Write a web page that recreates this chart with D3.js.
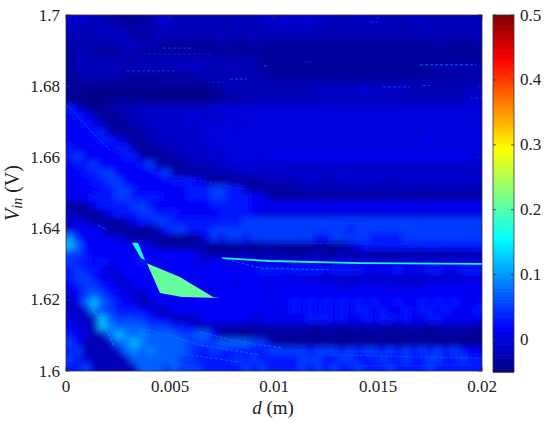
<!DOCTYPE html>
<html><head><meta charset="utf-8">
<script src="https://cdn.jsdelivr.net/npm/d3@7"></script>
<style>html,body{margin:0;padding:0;background:#fff}svg{display:block}text{font-family:"Liberation Serif","Times New Roman",Tinos,serif;fill:#222}</style>
</head><body><div id="c"></div>
<script>
// Heat values: one letter per cell, V from 1.7 (top) to 1.6 (bottom), d from 0 to 0.02
const heatLevels = [-0.045,-0.035,-0.02,-0.01,0,0.015,0.03,0.05,0.07,0.09,0.12,0.15,0.2];
const levelKeys = "0123456789abc";
const heatRows = [
"3332 2111 1113 3222 2222 2222 3333 3333 3222 3333 2223 2222 2222",
"3222 3321 1222 3322 2222 2322 2333 3332 2222 2222 2222 2322 2222",
"2222 2233 1112 2222 2222 2222 2222 2222 2222 2222 2222 2222 2222",
"1222 2222 3222 1111 1112 1112 1111 1111 1111 1111 1111 1121 1112",
"1221 1112 2111 1111 1111 1111 1111 1111 1111 1111 1111 1111 1111",
"1222 2222 1222 2222 2222 2222 1111 1111 1111 1111 1111 1111 1111",
"1222 2222 2222 2233 3222 2222 1111 1111 1111 1111 1111 1122 2222",
"1122 2221 1111 1111 2222 2222 2111 1111 1111 1111 1111 1111 1121",
"1111 1111 1111 1111 1112 2222 2222 2222 2222 2222 2222 2222 2222",
"1100 0000 0000 0000 0011 2222 2222 2223 3333 3433 3332 2222 2233",
"0000 0111 1100 0000 0011 1122 2222 2222 2222 2222 2222 2222 2233",
"6411 1122 2333 3333 3344 4444 4444 4444 4444 4444 4444 4444 4444",
"5652 1112 2333 3334 4333 4444 4444 4444 4444 4444 4444 4444 4444",
"5565 2111 2233 3333 3444 4344 4444 4444 4444 4444 4444 4444 4444",
"5556 6211 1223 3333 3444 4444 4444 4444 4444 4444 4444 4444 4444",
"5555 6652 1122 3333 3344 4444 4444 4444 4444 4444 4444 4544 4444",
"6555 5566 2112 2233 3344 4444 4444 4444 4444 4444 4444 4444 4444",
"6755 5556 6211 1223 3333 4444 4455 5555 5555 5555 5555 5555 5544",
"5667 5555 5672 1112 2233 3444 3333 3333 3333 3333 3333 3333 3333",
"5566 7755 5556 7211 1122 2233 3333 3333 3333 3333 3333 3333 3333",
"5556 6775 5555 5666 5211 1111 2222 2333 2233 3333 2333 3333 3333",
"4555 6677 6555 5556 6677 6621 1111 1222 2222 2222 2222 2222 2222",
"5556 6677 6666 5556 6677 6665 5211 1111 1111 1111 1111 1111 1111",
"1125 6666 7765 5555 5566 6665 5555 5555 5555 5555 5555 5555 5555",
"3111 2566 6776 6655 5556 6665 4444 4444 3444 4344 4444 3444 4444",
"4431 1112 5667 7666 6666 6677 7777 7777 7777 7777 7777 7777 7777",
"4555 4111 1112 6776 6677 7777 7777 7777 7776 7777 7777 7777 7777",
"9655 5442 1111 1111 1576 7767 7777 7776 6777 7766 6677 7777 7777",
"a855 5555 4542 1111 1111 1111 1111 1111 1112 5666 6666 6666 6666",
"7765 5555 5555 5555 4211 1121 1211 1112 1121 1211 1121 1211 2122",
"7665 6555 5655 5555 4455 5554 4444 4444 4444 3444 3444 4444 4444",
"6766 5355 5555 5555 5555 5555 6665 6666 5666 6555 5655 5665 5666",
"6776 5525 5555 5555 5555 5555 5455 4444 3333 3333 3333 3333 3344",
"5677 6552 5555 5555 5555 5455 5555 5555 4544 4545 4444 4555 5555",
"4578 7655 2255 5555 5555 5555 5455 5555 5555 5555 5555 5555 5545",
"348a 8765 5225 5555 5555 5555 5555 6565 6565 6565 5655 6565 6555",
"3339 7766 6552 2555 5555 5555 5545 6565 6565 6656 5565 6656 5556",
"4332 a877 7765 5222 4555 5554 4555 5566 6565 5656 6565 5665 5555",
"5432 a988 8877 7665 2222 2212 2222 2221 2212 2222 1222 2122 2221",
"6532 28a9 8988 8877 8851 1101 1011 1101 1110 1011 1101 1011 1101",
"7522 2389 a988 8887 7778 8887 7411 1111 1101 1111 1011 1111 1110",
"6722 2238 9898 8887 6676 6666 6777 7767 7767 6776 7676 7676 7655",
"7632 2223 8888 8877 6666 6767 6666 6777 6677 6667 6676 6776 6766",
"6673 2222 3888 7877 7666 6676 7666 6767 6766 7666 7666 6766 6666"
];
// Bright filled patches (d, V, value)
const patchD = [[0.00389,0.00548,0.00707,0.0074,0.00558,0.00452],[0.00317,0.00346,0.0038,0.00361]];
const patchV = [[1.6303,1.6264,1.6208,1.6205,1.6208,1.6219],[1.636,1.636,1.6312,1.6317]];
const patchValue = [0.21,0.165];
// Thin bright streaks (d, V, value)
const streakD = [
[0.0075,0.00981,0.01413,0.02],[0.0075,0.00933,0.01269],[0.00981,0.01413,0.02],[0.00981,0.02],
[0.01702,0.0197],[0.00467,0.00611],[0.0037,0.00692],[0.00293,0.00534],[0.00678,0.00774],[0.00788,0.00870],
[0.01462,0.01510],[0.01524,0.01654],[0.01716,0.01750],[0.01942,0.02],[0.00952,0.00971],[0.01144,0.01180],
[0.00005,0.00115,0.00212],[0.00404,0.00885],[0.00644,0.00837,0.01038],[0.00101,0.00197,0.00226],
[0.0025,0.00404,0.00644,0.00933],[0.00269,0.00404,0.00596,0.00837],[0.00284,0.00404,0.00596],
[0.01269,0.02],[0.00981,0.01606],[0.01365,0.0197],[0.00154,0.00197]
];
const streakV = [
[1.6317,1.6309,1.6303,1.6301],[1.6317,1.6289,1.6284],[1.6424,1.6413,1.6404],[1.636,1.6354],
[1.686,1.686],[1.6907,1.6907],[1.689,1.689],[1.6843,1.6843],[1.6812,1.6812],[1.682,1.682],
[1.698,1.698],[1.6798,1.6798],[1.6802,1.6802],[1.6767,1.6767],[1.6857,1.6857],[1.6868,1.6868],
[1.6747,1.6677,1.6621],[1.6559,1.6508],[1.611,1.6081,1.6065],[1.62,1.6115,1.6073],
[1.6121,1.6115,1.6073,1.6045],[1.6087,1.6073,1.6045,1.6025],[1.6059,1.6036,1.6014],
[1.6045,1.6036],[1.6059,1.6053],[1.6014,1.6017],[1.641,1.6396]
];
const streakValue = [0.175,0.09,0.06,0.05,0.10,0.07,0.04,0.07,0.04,0.08,0.05,0.07,0.08,0.06,0.09,0.05,0.07,0.05,0.09,0.12,0.09,0.08,0.08,0.07,0.06,0.06,0.09];
const xTicks = [0,0.005,0.01,0.015,0.02];
const yTicks = [1.6,1.62,1.64,1.66,1.68,1.7];
const cTicks = [0,0.1,0.2,0.3,0.4,0.5];

const W=550,H=423,L=66,R=482,T=15,B=371;
const x=d3.scaleLinear().domain([0,0.02]).range([L,R]);
const y=d3.scaleLinear().domain([1.6,1.7]).range([B,T]);
// jet colormap spread over the colour range
const cMin=-0.05,cMax=0.5,jet=["#000080","#0000ff","#00ffff","#80ff80","#ffff00","#ff0000","#800000"],stops=[0,.125,.375,.5,.625,.875,1];
const color=d3.scaleLinear().domain(stops.map(s=>cMin+s*(cMax-cMin))).range(jet).clamp(true);

const cells=heatRows.map(r=>r.replace(/ /g,""));
const nCols=cells[0].length,nRows=cells.length;
const cols=d3.scaleBand().domain(d3.range(nCols)).range([L,R]);
const rows=d3.scaleBand().domain(d3.range(nRows)).range([T,B]);

const svg=d3.select("#c").append("svg").attr("width",W).attr("height",H);
const defs=svg.append("defs");
defs.append("clipPath").attr("id","pc").append("rect").attr("x",L).attr("y",T).attr("width",R-L).attr("height",B-T);
defs.append("filter").attr("id","soft").attr("x","-5%").attr("y","-5%").attr("width","110%").attr("height","110%")
  .append("feGaussianBlur").attr("stdDeviation",3.2);

const plot=svg.append("g").attr("clip-path","url(#pc)");
plot.append("rect").attr("x",L).attr("y",T).attr("width",R-L).attr("height",B-T).attr("fill",color(-0.03));
const grid=plot.append("g").attr("filter","url(#soft)");
cells.forEach((row,r)=>{
  grid.selectAll(null).data(row.split("")).enter().append("rect")
    .attr("x",(d,c)=>cols(c)-(c===0?14:0)).attr("y",rows(r)-(r===0?14:0))
    .attr("width",(d,c)=>cols.bandwidth()+(c===0||c===nCols-1?14:0)+.5)
    .attr("height",rows.bandwidth()+(r===0||r===nRows-1?14:0)+.5)
    .attr("fill",d=>color(heatLevels[levelKeys.indexOf(d)]));
});
const line=d3.line().x(p=>x(p[0])).y(p=>y(p[1]));
plot.append("g").selectAll("path").data(streakD.map((ds,i)=>({pts:ds.map((d,j)=>[d,streakV[i][j]]),v:streakValue[i]})))
  .enter().append("path").attr("d",o=>line(o.pts)).attr("fill","none").attr("stroke",o=>color(o.v))
  .attr("stroke-width",o=>o.v>0.15?1.8:1).attr("stroke-opacity",o=>o.v>0.15?.95:.7)
  .attr("stroke-dasharray",o=>o.v>0.15?null:"3 2");
plot.append("g").selectAll("path").data(patchD.map((ds,i)=>({pts:ds.map((d,j)=>[d,patchV[i][j]]),v:patchValue[i]})))
  .enter().append("path").attr("d",o=>d3.line().x(p=>x(p[0])).y(p=>y(p[1])).curve(d3.curveLinearClosed)(o.pts)).attr("fill",o=>color(o.v));

// Frame and axes
const ink="#333";
const frame=svg.append("g");
frame.append("rect").attr("x",L).attr("y",T).attr("width",R-L).attr("height",B-T).attr("fill","none").attr("stroke",ink).attr("stroke-width",.8);
const fmt=d=>String(+d.toFixed(3));
const tick=(g,x1,y1,x2,y2)=>g.append("line").attr("x1",x1).attr("y1",y1).attr("x2",x2).attr("y2",y2).attr("stroke",ink).attr("stroke-width",.8);
xTicks.forEach(t=>{tick(frame,x(t),B,x(t),B-4);tick(frame,x(t),T,x(t),T+4);
  frame.append("text").attr("x",x(t)).attr("y",392).attr("text-anchor","middle").attr("font-size",17).text(fmt(t));});
yTicks.forEach(t=>{tick(frame,L,y(t),L+4,y(t));tick(frame,R,y(t),R-4,y(t));
  frame.append("text").attr("x",L-6).attr("y",y(t)+5.5).attr("text-anchor","end").attr("font-size",17).text(fmt(t));});
const xl=frame.append("text").attr("x",273).attr("y",414).attr("text-anchor","middle").attr("font-size",19);
xl.append("tspan").attr("font-style","italic").text("d");xl.append("tspan").text(" (m)");
const yl=frame.append("text").attr("transform","translate(19,193) rotate(-90)").attr("text-anchor","middle").attr("font-size",20);
yl.append("tspan").attr("font-style","italic").text("V");
yl.append("tspan").attr("font-style","italic").attr("font-size",14).attr("dy",3).text("in");
yl.append("tspan").attr("dy",-3).text(" (V)");

// Colour bar
const cx0=493,cx1=514;
const cy=d3.scaleLinear().domain([cMin,cMax]).range([372,T]);
const bar=svg.append("g");
const steps=d3.range(128).map(i=>cMin+(i/128)*(cMax-cMin));
bar.selectAll("rect").data(steps).enter().append("rect").attr("x",cx0).attr("width",cx1-cx0)
  .attr("y",v=>cy(v+(cMax-cMin)/128)).attr("height",(372-T)/128+.6).attr("fill",v=>color(v+(cMax-cMin)/256));
bar.append("rect").attr("x",cx0).attr("y",T).attr("width",cx1-cx0).attr("height",372-T).attr("fill","none").attr("stroke",ink).attr("stroke-width",.8);
cTicks.forEach(t=>{tick(bar,cx0,cy(t),cx0+3,cy(t));tick(bar,cx1,cy(t),cx1-3,cy(t));
  bar.append("text").attr("x",520).attr("y",cy(t)+5.5).attr("font-size",17).text(fmt(t));});
</script></body></html>
